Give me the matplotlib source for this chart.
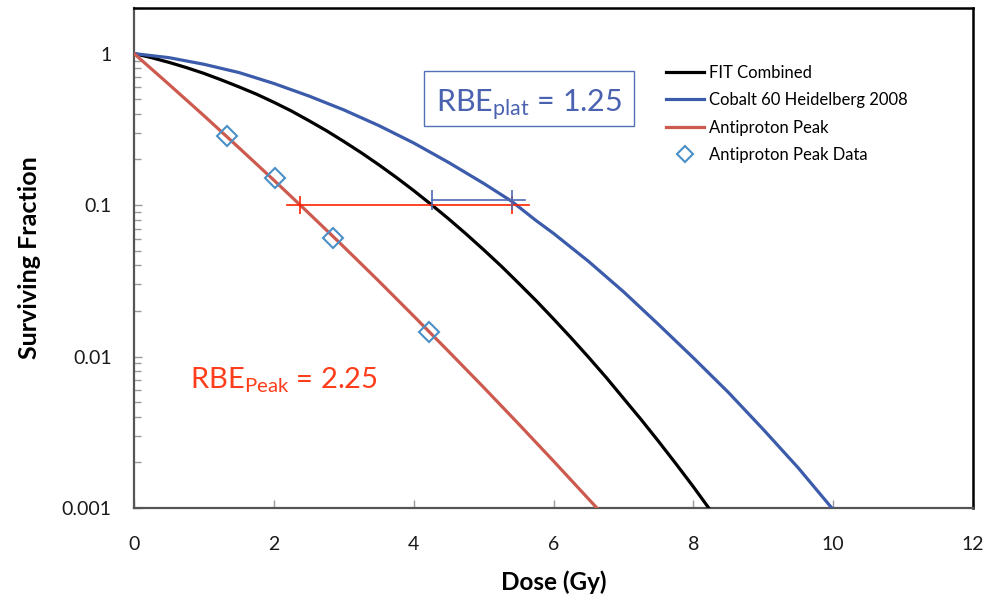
import matplotlib
matplotlib.use("Agg")
import matplotlib.pyplot as plt
from matplotlib.patches import Rectangle
from matplotlib.ticker import LogLocator, FixedLocator, NullFormatter

plt.rcParams['font.family'] = ['Lato', 'DejaVu Sans']
plt.rcParams['mathtext.fontset'] = 'custom'
plt.rcParams['mathtext.rm'] = 'Lato'
plt.rcParams['mathtext.it'] = 'Lato:italic'
plt.rcParams['mathtext.bf'] = 'Lato:bold'

# survival curves (dose in Gy, surviving fraction)
dose_fit = [0, 0.25, 0.5, 0.75, 1.0, 1.25, 1.5, 1.75, 2.0, 2.25, 2.5, 2.75,
            3.0, 3.25, 3.5, 3.75, 4.0, 4.26, 4.5, 4.75, 5.0, 5.25, 5.5, 5.75,
            6.0, 6.25, 6.5, 6.75, 7.0, 7.25, 7.5, 7.75, 8.0, 8.22]
sf_fit = [1.0, 0.94, 0.875, 0.808, 0.74, 0.67, 0.603, 0.54, 0.477, 0.418,
          0.361, 0.310, 0.263, 0.2215, 0.1846, 0.1524, 0.1246, 0.100, 0.081,
          0.0644, 0.0507, 0.0396, 0.0305, 0.0234, 0.0177, 0.0133, 0.0099,
          0.0073, 0.0053, 0.00385, 0.00276, 0.00196, 0.00138, 0.001]

dose_co = [0, 0.5, 1.0, 1.5, 2.0, 2.5, 3.0, 3.5, 4.0, 4.5, 5.0, 5.4, 5.75,
           6.0, 6.5, 7.0, 7.5, 8.0, 8.5, 9.0, 9.5, 9.98]
sf_co = [1.0, 0.94, 0.85, 0.75, 0.635, 0.525, 0.425, 0.335, 0.257, 0.191,
         0.139, 0.106, 0.079, 0.065, 0.0425, 0.0268, 0.0163, 0.0098, 0.0058,
         0.0033, 0.00184, 0.001]

dose_pk = [0, 0.5, 1.0, 1.5, 2.0, 2.5, 3.0, 3.5, 4.0, 4.5, 5.0, 5.5, 6.0, 6.62]
sf_pk = [1.0, 0.626, 0.389, 0.239, 0.146, 0.0883, 0.053, 0.0315, 0.0185,
         0.0108, 0.00626, 0.00359, 0.00204, 0.001]

# measured antiproton peak points
dose_data = [1.33, 2.02, 2.84, 4.22]
sf_data = [0.284, 0.150, 0.061, 0.0145]

# iso-effect doses at 10% survival
peak_marks = [2.37, 5.40]
peak_span = [2.19, 5.65]
peak_level = 0.1
plat_marks = [4.26, 5.40]
plat_span = [4.26, 5.59]
plat_level = 0.108

c_fit = 'black'
c_co = '#3c5cab'
c_pk = '#cd5a4e'
c_data = '#4a90c8'

fig = plt.figure(figsize=(9.9, 6.01), dpi=100)
ax = fig.add_axes([0.1354, 0.1547, 0.8475, 0.832])

ax.plot(dose_fit, sf_fit, color=c_fit, lw=2.3, label='FIT Combined', zorder=3)
ax.plot(dose_co, sf_co, color=c_co, lw=2.3, label='Cobalt 60 Heidelberg 2008', zorder=3)
ax.plot(dose_pk, sf_pk, color=c_pk, lw=2.3, label='Antiproton Peak', zorder=3)
ax.plot(dose_data, sf_data, ls='none', marker='D', ms=10, mfc='none',
        mec=c_data, mew=1.5, label='Antiproton Peak Data', zorder=5)

ax.plot(peak_span, [peak_level] * 2, color='#ff2200', lw=1.2, zorder=4)
ax.plot(peak_marks, [peak_level] * 2, ls='none', marker='|', ms=13,
        mew=1.2, color='#ff2200', zorder=4)
ax.plot(plat_span, [plat_level] * 2, color='#5068b4', lw=1.2, zorder=4)
ax.plot(plat_marks, [plat_level] * 2, ls='none', marker='|', ms=14,
        mew=1.2, color='#5068b4', zorder=4)

ax.set_yscale('log')
ax.set_xlim(0, 12)
ax.set_ylim(0.001, 2.0)
ax.xaxis.set_major_locator(FixedLocator([0, 2, 4, 6, 8, 10, 12]))
ax.set_xticklabels(['0', '2', '4', '6', '8', '10', '12'])
ax.yaxis.set_major_locator(FixedLocator([0.001, 0.01, 0.1, 1]))
ax.set_yticklabels(['0.001', '0.01', '0.1', '1'])
ax.yaxis.set_minor_locator(LogLocator(base=10, subs=range(2, 10)))
ax.yaxis.set_minor_formatter(NullFormatter())

ax.tick_params(axis='both', which='major', direction='in', length=6,
               width=1, color='#999999', labelsize=14, labelcolor='#1a1a1a')
ax.tick_params(axis='y', which='major', pad=16)
ax.tick_params(axis='x', which='major', pad=20)
ax.tick_params(axis='y', which='minor', direction='in', length=5,
               width=1, color='#999999')

for side in ['left', 'bottom']:
    ax.spines[side].set_color('#555555')
    ax.spines[side].set_linewidth(1.6)
for side in ['top', 'right']:
    ax.spines[side].set_color('black')
    ax.spines[side].set_linewidth(1.8)

ax.set_xlabel('Dose (Gy)', fontsize=17.5, fontweight='bold', labelpad=13)
ax.set_ylabel('Surviving Fraction', fontsize=18, fontweight='bold', labelpad=15)

ax.legend(loc='upper left', bbox_to_anchor=(0.634, 0.886), frameon=False,
          fontsize=12, handlelength=2.3, handletextpad=0.3, labelspacing=0.68,
          borderpad=0, borderaxespad=0, markerscale=0.8)

ax.add_patch(Rectangle((0.3457, 0.764), 0.2503, 0.11, transform=ax.transAxes,
                       fill=False, ec='#5470b8', lw=1.0, zorder=6))
ax.text(0.4708, 0.792, r'RBE$_{\mathrm{plat}}$ = 1.25', transform=ax.transAxes,
        ha='center', va='baseline', fontsize=22, color='#4a62b0', zorder=7)
ax.text(0.0667, 0.24, r'RBE$_{\mathrm{Peak}}$ = 2.25', transform=ax.transAxes,
        ha='left', va='baseline', fontsize=21, color='#ff3d1a', zorder=7)

fig.savefig('out.png', dpi=100)
